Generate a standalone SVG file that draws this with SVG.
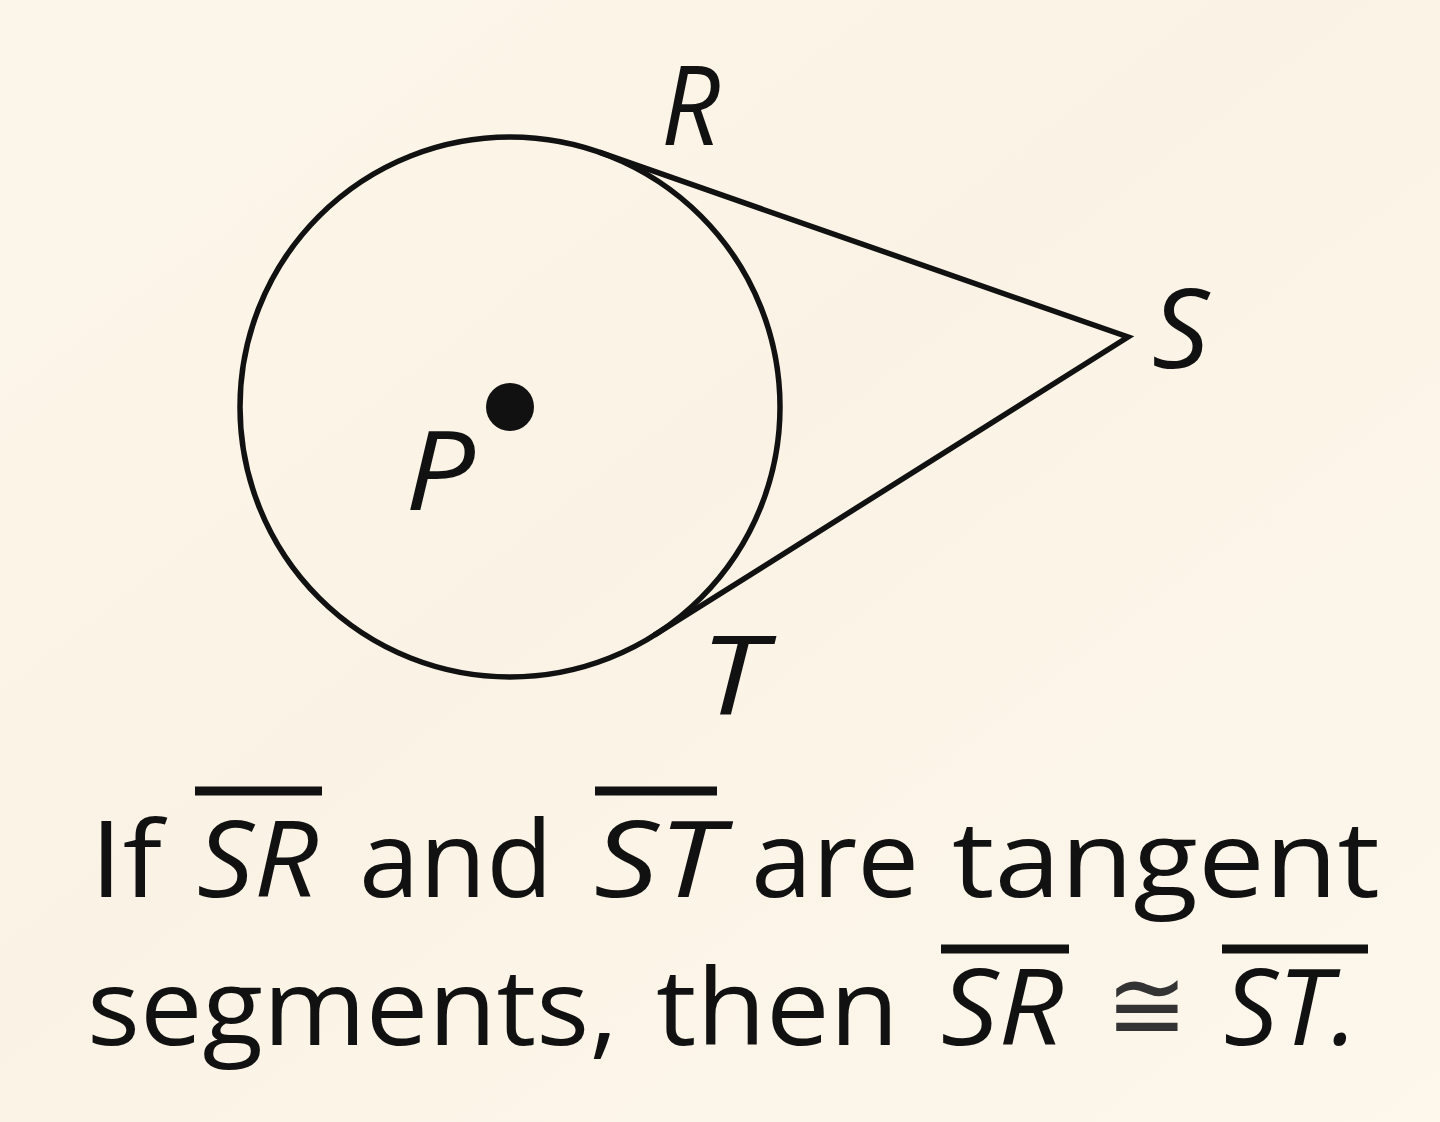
<svg xmlns="http://www.w3.org/2000/svg" width="1440" height="1122" viewBox="0 0 1440 1122">
<defs>
<linearGradient id="bg" x1="0" y1="0" x2="1" y2="1">
<stop offset="0" stop-color="#fcf6ea"/>
<stop offset="0.45" stop-color="#faf3e5"/>
<stop offset="1" stop-color="#fdf7ec"/>
</linearGradient>
<style>
.ln{stroke:#111;stroke-width:5.5;fill:none}
.lbl{font-family:"Open Sans","Noto Sans",sans-serif;font-style:italic;font-weight:500;font-size:110px;fill:#111}
.txt{font-family:"Open Sans","Noto Sans",sans-serif;font-weight:500;font-size:106px;fill:#111}
.it{font-style:italic}
.ov{stroke:#111;stroke-width:9}
</style>
</defs>
<rect x="0" y="0" width="1440" height="1122" fill="url(#bg)"/>
<g id="connectors">
<path class="ln" d="M599.4,152.2 L1128,337 L654.3,635.2" stroke-linejoin="miter" stroke-miterlimit="10"/>
</g>
<g id="circle-P">
<circle class="ln" cx="510" cy="407" r="270"/>
</g>
<g id="center-P">
<circle cx="510" cy="407" r="24" fill="#111"/>
<text class="lbl" x="405" y="510" textLength="70" lengthAdjust="spacingAndGlyphs">P</text>
</g>
<g id="point-R">
<text class="lbl" x="661" y="145" textLength="59" lengthAdjust="spacingAndGlyphs">R</text>
</g>
<g id="point-S">
<text class="lbl" x="1152" y="368" textLength="57" lengthAdjust="spacingAndGlyphs">S</text>
</g>
<g id="point-T">
<text class="lbl" x="700" y="715" textLength="65" lengthAdjust="spacingAndGlyphs">T</text>
</g>
<g id="caption">
<text class="txt" x="90" y="897" textLength="72" lengthAdjust="spacingAndGlyphs">If</text>
<text class="txt it" x="197" y="897" textLength="121" lengthAdjust="spacingAndGlyphs">SR</text>
<line class="ov" x1="195" y1="791" x2="322" y2="791"/>
<text class="txt" x="359" y="897" textLength="194" lengthAdjust="spacingAndGlyphs">and</text>
<text class="txt it" x="594" y="897" textLength="128" lengthAdjust="spacingAndGlyphs">ST</text>
<line class="ov" x1="595" y1="791" x2="717" y2="791"/>
<text class="txt" x="751" y="897" textLength="168" lengthAdjust="spacingAndGlyphs">are</text>
<text class="txt" x="952" y="897" textLength="428" lengthAdjust="spacingAndGlyphs">tangent</text>
<text class="txt" x="87" y="1045" textLength="531" lengthAdjust="spacingAndGlyphs">segments,</text>
<text class="txt" x="656" y="1045" textLength="243" lengthAdjust="spacingAndGlyphs">then</text>
<text class="txt it" x="941" y="1045" textLength="122" lengthAdjust="spacingAndGlyphs">SR</text>
<line class="ov" x1="941" y1="949" x2="1069" y2="949"/>
<text x="1106" y="1040" font-family="DejaVu Sans, sans-serif" font-size="100" fill="#333" textLength="82" lengthAdjust="spacingAndGlyphs">≅</text>
<text class="txt it" x="1224" y="1045" textLength="134" lengthAdjust="spacingAndGlyphs">ST.</text>
<line class="ov" x1="1222" y1="949" x2="1368" y2="949"/>
</g>
</svg>
